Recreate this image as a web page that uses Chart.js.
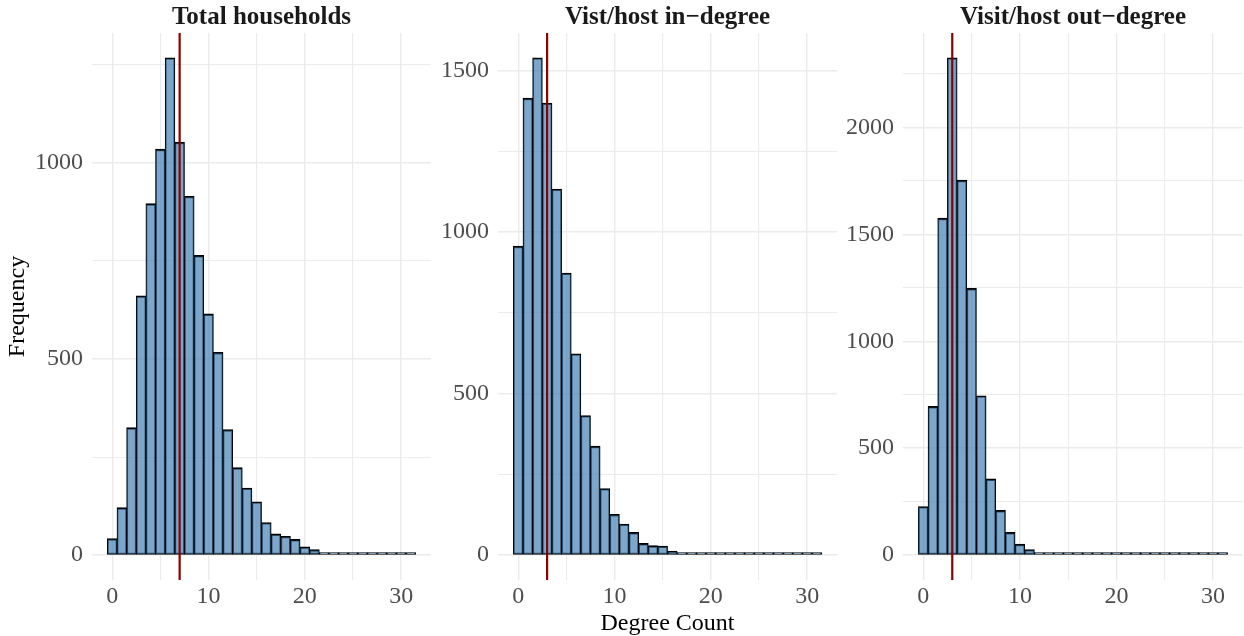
<!DOCTYPE html>
<html>
<head>
<meta charset="utf-8">
<script src="https://cdn.jsdelivr.net/npm/chart.js@4.4.1/dist/chart.umd.min.js"></script>
<style>
  body { margin: 0; background: #fff; }
  #wrap { position: relative; width: 1244px; height: 636px; overflow: hidden; }
  canvas { position: absolute; top: 0; }
</style>
</head>
<body>
<div id="wrap">
  <canvas id="c1" width="440" height="636" style="left:0px"></canvas>
  <canvas id="c2" width="400" height="636" style="left:440px"></canvas>
  <canvas id="c3" width="404" height="636" style="left:840px"></canvas>
</div>
<script>
// degree bins (binwidth 1)
const degrees = [0, 1, 2, 3, 4, 5, 6, 7, 8, 9, 10, 11, 12, 13, 14, 15,
  16, 17, 18, 19, 20, 21, 22, 23, 24, 25, 26, 27, 28, 29, 30, 31];

const totalHouseholds = [42, 121, 325, 661, 896, 1035, 1268, 1053, 915, 764, 615, 517, 320, 223, 171, 136,
  83, 54, 48, 40, 21, 14, 2, 5, 3, 4, 4, 3, 2, 2, 1, 3];
const inDegree = [956, 1414, 1539, 1399, 1133, 873, 623, 432, 337, 206, 126, 96, 70, 36, 29, 28,
  12, 4, 3, 3, 2, 1, 2, 1, 2, 1, 1, 1, 2, 1, 1, 1];
const outDegree = [227, 695, 1575, 2325, 1753, 1247, 745, 356, 209, 106, 51, 26, 12, 5, 4, 3,
  2, 2, 1, 1, 1, 1, 1, 1, 1, 1, 1, 1, 1, 1, 1, 1];

const medians = [7, 3, 3];
const panelTitles = ['Total households', 'Vist/host in\u2212degree', 'Visit/host out\u2212degree'];

const xTicks = [0, 5, 10, 15, 20, 25, 30];
const xLabelEvery = 10;
const yStep = 250;
const yLabelEvery = 500;

const SERIF = "'Liberation Serif', 'Times New Roman', 'DejaVu Serif', serif";

// median line + panel text
const medianLine = {
  id: 'medianLine',
  afterDatasetsDraw(chart, args, opts) {
    const { ctx, chartArea } = chart;
    const x = chart.scales.x.getPixelForValue(opts.value);
    ctx.save();
    ctx.strokeStyle = '#8b0000';
    ctx.lineWidth = 2.2;
    ctx.beginPath();
    ctx.moveTo(x, chartArea.top);
    ctx.lineTo(x, chartArea.bottom);
    ctx.stroke();
    ctx.restore();
  }
};

const panelText = {
  id: 'panelText',
  afterDraw(chart, args, opts) {
    const { ctx, chartArea: a } = chart;
    const cx = (a.left + a.right) / 2;
    ctx.save();
    ctx.textAlign = 'center';
    ctx.textBaseline = 'alphabetic';
    ctx.fillStyle = '#1a1a1a';
    ctx.font = 'bold 25px ' + SERIF;
    ctx.fillText(opts.title, cx, 24);
    ctx.fillStyle = '#000';
    ctx.font = '24px ' + SERIF;
    if (opts.xTitle) ctx.fillText(opts.xTitle, cx, 630);
    if (opts.yTitle) {
      ctx.translate(23.5, (a.top + a.bottom) / 2);
      ctx.rotate(-Math.PI / 2);
      ctx.fillText(opts.yTitle, 0, 0);
    }
    ctx.restore();
  }
};

function makePanel (id, values, median, title, yWidth, padRight, xTitle, yTitle) {
  const top = Math.max(...values);
  const ctx = document.getElementById(id).getContext('2d');
  return new Chart(ctx, {
    type: 'bar',
    data: {
      datasets: [{
        data: degrees.map((d, i) => ({ x: d, y: values[i] })),
        backgroundColor: 'rgba(70,130,180,0.7)',
        borderColor: '#000',
        borderWidth: { top: 1.6, bottom: 1.2, left: 1, right: 1 },
        borderSkipped: false,
        minBarLength: 2.4,
        inflateAmount: 0.4,
        barPercentage: 1,
        categoryPercentage: 1
      }]
    },
    options: {
      responsive: false,
      animation: false,
      events: [],
      layout: { padding: { top: 33, left: 0, right: padRight, bottom: 0 } },
      plugins: {
        legend: { display: false },
        tooltip: { enabled: false },
        medianLine: { value: median },
        panelText: { title: title, xTitle: xTitle, yTitle: yTitle }
      },
      scales: {
        x: {
          type: 'linear',
          min: -2.1,
          max: 33.1,
          offset: false,
          afterFit: s => { s.height = 56 },
          afterBuildTicks: s => { s.ticks = xTicks.map(v => ({ value: v })) },
          ticks: {
            autoSkip: false,
            maxRotation: 0,
            padding: 2,
            color: '#4d4d4d',
            font: { family: SERIF, size: 24 },
            callback: v => (v % xLabelEvery === 0 ? v : '')
          },
          grid: {
            offset: false,
            drawTicks: false,
            color: '#ebebeb',
            lineWidth: ctx => (ctx.tick && ctx.tick.value % xLabelEvery === 0 ? 1.4 : 1.1)
          },
          border: { display: false }
        },
        y: {
          min: -0.05 * top,
          max: 1.05 * top,
          afterFit: s => { s.width = yWidth },
          afterBuildTicks: s => {
            const t = [];
            for (let v = 0; v <= s.max; v += yStep) t.push({ value: v });
            s.ticks = t;
          },
          ticks: {
            padding: 9,
            color: '#4d4d4d',
            font: { family: SERIF, size: 24 },
            callback: v => (v % yLabelEvery === 0 ? v : '')
          },
          grid: {
            drawTicks: false,
            color: '#ebebeb',
            lineWidth: ctx => (ctx.tick && ctx.tick.value % yLabelEvery === 0 ? 1.4 : 1.1)
          },
          border: { display: false }
        }
      }
    },
    plugins: [medianLine, panelText]
  });
}

makePanel('c1', totalHouseholds, medians[0], panelTitles[0], 92, 9, null, 'Frequency');
makePanel('c2', inDegree, medians[1], panelTitles[1], 58, 3, 'Degree Count', null);
makePanel('c3', outDegree, medians[2], panelTitles[2], 63, 1, null, null);
</script>
</body>
</html>
